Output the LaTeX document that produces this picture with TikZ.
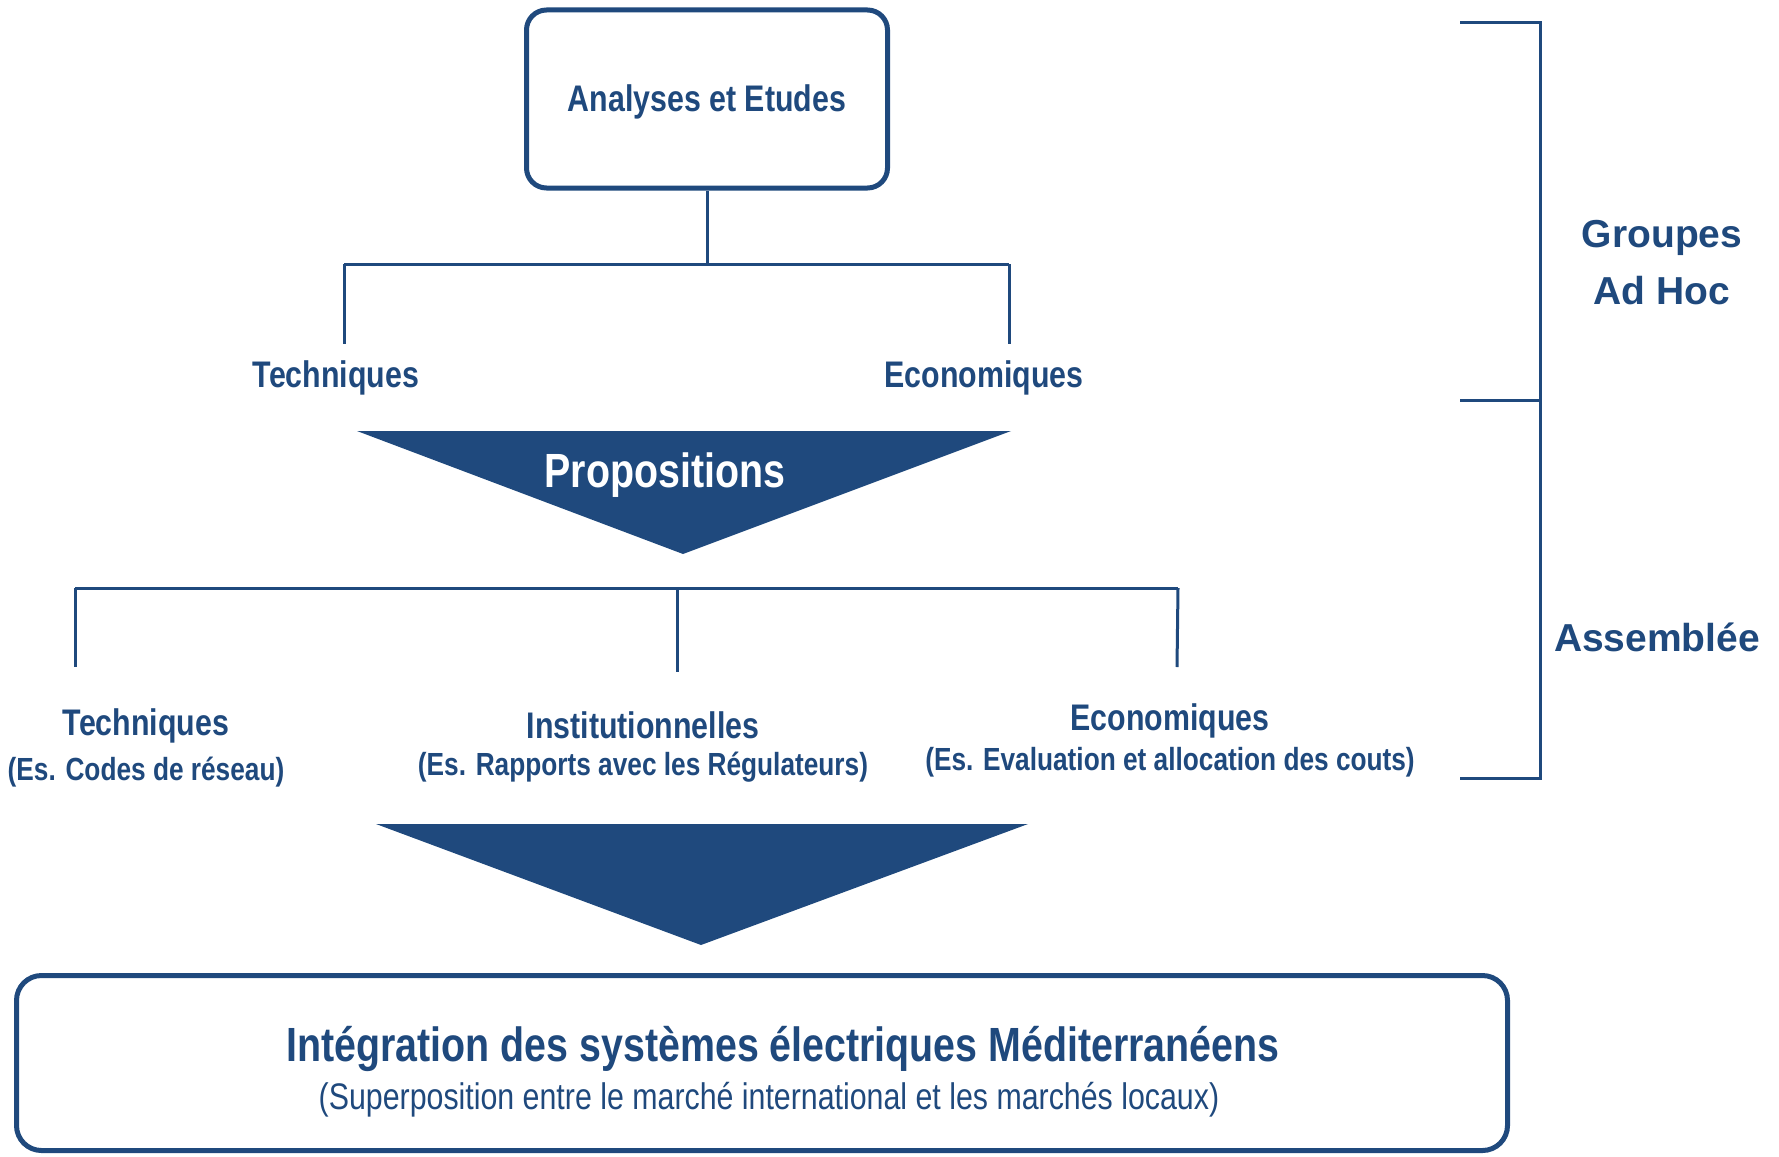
\documentclass[tikz,border=0pt]{standalone}
\usepackage{fontspec}
\setmainfont{Liberation Sans}
\newfontfamily\narrow[FakeStretch = 0.82]{Liberation Sans}
\usepackage{tikz}
\usetikzlibrary{positioning}
\definecolor{navy}{HTML}{1F497D}

\begin{document}
\begin{tikzpicture}[x = 1pt, y = -1pt, color = navy, line width = 3pt,
  box/.style = {draw, line width = 5pt, rounded corners = 20pt},
  lbl/.style = {font = \narrow\bfseries\fontsize{37}{44}\selectfont},
  sub/.style = {font = \narrow\bfseries\fontsize{32}{38}\selectfont},
  side/.style = {font = \bfseries\fontsize{39}{57}\selectfont, align = center}]
\useasboundingbox (0, 0) rectangle (1779, 1156);
% top box and first split
\node [box, minimum width = 361pt, minimum height = 178pt] (ana) at (707, 99) {};
\node [lbl] (analabel) at (707, 102) {Analyses et Etudes};
\coordinate (top) at (707, 264);
\coordinate (tl) at (344, 264);
\coordinate (tr) at (1009, 264);
\coordinate (tlend) at (344, 344);
\coordinate (trend) at (1009, 344);
\node [lbl] (tech1) at (336, 378) {Techniques};
\node [lbl] (eco1) at (984, 378) {Economiques};
\draw (ana) -- (top);
\draw (tl) -- (tr);
\draw (tl) -- (tlend);
\draw (tr) -- (trend);
% propositions
\coordinate (p1) at (357, 431);
\coordinate (p2) at (1011, 431);
\coordinate (p3) at (683, 554);
\fill (p1) -- (p2) -- (p3) -- cycle;
\node [font = \narrow\bfseries\fontsize{48}{56}\selectfont, text = white] (prop) at (665, 475) {Propositions};
% second split
\coordinate (bl) at (75, 588);
\coordinate (bm) at (677, 588);
\coordinate (br) at (1178, 588);
\coordinate (blend) at (75, 667);
\coordinate (bmend) at (677, 672);
\coordinate (brend) at (1177, 667);
\draw (bl) -- (br);
\draw (bl) -- (blend);
\draw (bm) -- (bmend);
\draw (br) -- (brend);
\node [lbl] (tech2) at (146, 726) {Techniques};
\node [sub] (tech2ex) at (146, 772) {(Es. Codes de réseau)};
\node [lbl] (inst) at (643, 725) {Institutionnelles};
\node [sub] (instex) at (643, 767) {(Es. Rapports avec les Régulateurs)};
\node [lbl] (eco2) at (1170, 721) {Economiques};
\node [sub] (eco2ex) at (1170, 762) {(Es. Evaluation et allocation des couts)};
% second arrow
\coordinate (q1) at (376, 824);
\coordinate (q2) at (1028, 824);
\coordinate (q3) at (701, 945);
\fill (q1) -- (q2) -- (q3) -- cycle;
% bottom box
\node [box, rounded corners = 25pt, minimum width = 1491pt, minimum height = 175pt] (integ) at (762, 1063) {};
\node [font = \narrow\bfseries\fontsize{48}{56}\selectfont] (title) at (783, 1049) {Intégration des systèmes électriques Méditerranéens};
\node [font = \narrow\fontsize{37}{44}\selectfont] (subtitle) at (769, 1100) {(Superposition entre le marché international et les marchés locaux)};
% bracket on the right
\coordinate (ra) at (1460, 23);
\coordinate (rb) at (1460, 400);
\coordinate (rc) at (1460, 778);
\draw (ra) -- ++(80, 0) |- (rc);
\draw (rb) -- ++(80, 0);
\node [side] (groupes) at (1662, 263) {Groupes\\Ad Hoc};
\node [side] (assemblee) at (1657, 637) {Assemblée};
\end{tikzpicture}
\end{document}
